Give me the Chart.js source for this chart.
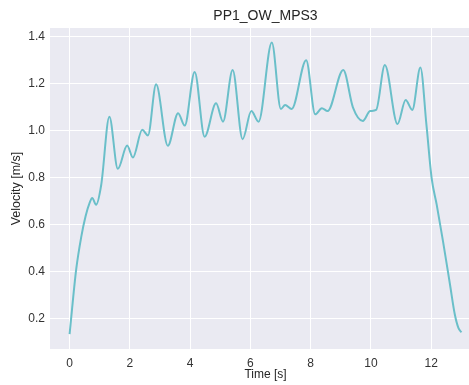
<!DOCTYPE html>
<html>
<head>
<meta charset="utf-8">
<script src="https://cdn.jsdelivr.net/npm/chart.js@4/dist/chart.umd.min.js"></script>
<style>
html,body{margin:0;padding:0;background:#fff;overflow:hidden;}
#wrap{width:481px;height:385px;position:relative;}
</style>
</head>
<body>
<div id="wrap"><canvas id="myChart"></canvas></div>
<script>
// values
let timeArray=[0.00,0.22,0.39,0.53,0.67,0.75,0.88,1.05,1.32,1.60,1.91,2.10,2.41,2.60,2.87,3.26,3.60,3.82,4.15,4.48,4.86,5.09,5.41,5.74,6.03,6.27,6.71,7.01,7.15,7.37,7.85,8.15,8.37,8.56,9.08,9.40,9.73,9.97,10.17,10.46,10.88,11.15,11.37,11.64,11.84,12.01,12.18,12.39,12.62,12.78,12.90,13.00];
let velocityArray=[0.133,0.41,0.55,0.636,0.695,0.714,0.685,0.77,1.06,0.838,0.937,0.886,1.004,0.98,1.198,0.936,1.075,1.022,1.251,0.975,1.117,1.039,1.259,0.964,1.084,1.039,1.376,1.093,1.11,1.093,1.301,1.07,1.096,1.084,1.259,1.10,1.042,1.084,1.089,1.28,1.029,1.131,1.089,1.27,1.025,0.80,0.685,0.529,0.346,0.218,0.16,0.141];
let xTickArray=[0,2,4,6,8,10,12];
let yTickArray=[0.2,0.4,0.6,0.8,1.0,1.2,1.4];

let points=[];
for(let i=0;i<timeArray.length;i++){
    points.push({x:timeArray[i],y:velocityArray[i]});
}

const font="'Liberation Sans', Arial, sans-serif";
const bgPlugin={
    id:"plotBg",
    beforeDraw(chart){
        const {ctx,chartArea}=chart;
        ctx.save();
        ctx.fillStyle="#EAEAF2";
        ctx.fillRect(chartArea.left,chartArea.top,chartArea.right-chartArea.left,chartArea.bottom-chartArea.top);
        ctx.restore();
    }
};

const ctx=document.getElementById("myChart").getContext("2d");
const myChart=new Chart(ctx,{
    type:"line",
    data:{
        datasets:[{
            data:points,
            borderColor:"#6ABFC9",
            borderWidth:2,
            pointRadius:0,
            fill:false,
            cubicInterpolationMode:"monotone"
        }]
    },
    options:{
        responsive:true,
        maintainAspectRatio:false,
        animation:false,
        layout:{padding:{left:0,right:0,top:0,bottom:0}},
        plugins:{
            legend:{display:false},
            tooltip:{enabled:false},
            title:{
                display:true,
                text:"PP1_OW_MPS3",
                fullSize:false,
                color:"#262626",
                font:{family:font,size:14,weight:"normal"},
                padding:{top:8,bottom:3.2}
            }
        },
        scales:{
            x:{
                type:"linear",
                min:-0.65,
                max:13.65,
                afterBuildTicks(scale){
                    scale.ticks=xTickArray.map(v=>({value:v}));
                },
                afterFit(scale){ scale.height=36; },
                border:{display:false},
                grid:{color:"#ffffff",lineWidth:1,drawTicks:false},
                ticks:{color:"#333",font:{family:font,size:12},padding:7},
                title:{display:true,text:"Time [s]",color:"#262626",font:{family:font,size:12},padding:{top:0,bottom:3}}
            },
            y:{
                type:"linear",
                min:0.07,
                max:1.438,
                afterBuildTicks(scale){
                    scale.ticks=yTickArray.map(v=>({value:v}));
                },
                afterFit(scale){ scale.width=50; },
                border:{display:false},
                grid:{color:"#ffffff",lineWidth:1,drawTicks:false},
                ticks:{color:"#333",font:{family:font,size:12},padding:5,callback:v=>v.toFixed(1)},
                title:{display:true,text:"Velocity [m/s]",color:"#262626",font:{family:font,size:12.5},padding:{top:9.5,bottom:0}}
            }
        }
    },
    plugins:[bgPlugin]
});
</script>
</body>
</html>
